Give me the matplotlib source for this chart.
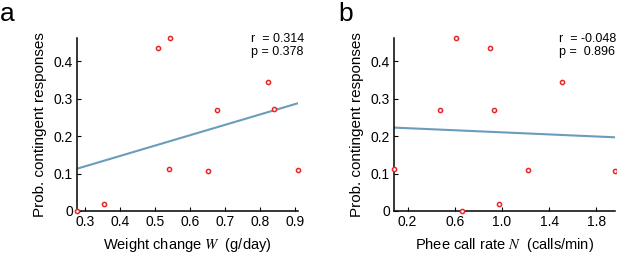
import numpy as np
import matplotlib.pyplot as plt

plt.rcParams['font.family'] = ['Liberation Sans', 'DejaVu Sans']
plt.rcParams['mathtext.fontset'] = 'stix'

# probabilidade de respostas contingentes vs variacao de peso
prob_a = [0.0, 0.019, 0.436, 0.463, 0.111, 0.107, 0.270, 0.345, 0.272, 0.109]
weight = [0.278, 0.356, 0.508, 0.542, 0.541, 0.653, 0.676, 0.822, 0.840, 0.908]

# probabilidade vs taxa de chamadas phee
prob_b = [0.111, 0.271, 0.463, 0.0, 0.436, 0.270, 0.019, 0.109, 0.344, 0.108]
phee_rate = [0.085, 0.478, 0.606, 0.663, 0.896, 0.933, 0.973, 1.217, 1.512, 1.956]

# reta ajustada (declive, ordenada na origem)
fit_a = (0.278, 0.0357)
fit_b = (-0.0139, 0.2242)

stats_a = "r  = 0.314\np = 0.378"
stats_b = "r  = -0.048\np =  0.896"

xticks_a = [0.3, 0.4, 0.5, 0.6, 0.7, 0.8, 0.9]
xticks_b = [0.2, 0.6, 1.0, 1.4, 1.8]
yticks = [0, 0.1, 0.2, 0.3, 0.4]
ytick_labels = ['0', '0.1', '0.2', '0.3', '0.4']

fig = plt.figure(figsize=(6.17, 2.56), dpi=100)
ax_a = fig.add_axes([0.1248, 0.176, 0.358, 0.676])
ax_b = fig.add_axes([0.6386, 0.176, 0.358, 0.676])

def painel(ax, x, y, fit, xticks, xlabel, stats, stats_x, letra, letra_x):
    x = np.array(x)
    y = np.array(y)
    m, b = fit
    xs = np.array([x.min(), x.max()])
    ax.plot(xs, m * xs + b, color='#6a9dbb', lw=1.5, zorder=2)
    ax.plot(x, y, 'o', mfc='white', mec='#e8262a', ms=3.0, mew=1.1,
            clip_on=False, zorder=3)
    ax.set_xlim(x.min(), x.max())
    ax.set_ylim(0, y.max())
    ax.set_xticks(xticks)
    ax.set_xticklabels(['{:.1f}'.format(v) for v in xticks])
    ax.set_yticks(yticks)
    ax.set_yticklabels(ytick_labels)
    ax.tick_params(direction='in', length=3, width=0.8, labelsize=10, pad=3)
    for s in ['top', 'right']:
        ax.spines[s].set_visible(False)
    for s in ['left', 'bottom']:
        ax.spines[s].set_linewidth(1.1)
    ax.set_xlabel(xlabel, fontsize=10.5, labelpad=5)
    ax.set_ylabel('Prob. contingent responses', fontsize=11, labelpad=5)
    ax.text(stats_x, 1.03, stats, transform=ax.transAxes,
            fontsize=9, va='top', ha='left', linespacing=1.15)
    ax.text(letra_x, 1.21, letra, transform=ax.transAxes, fontsize=19,
            va='top', ha='left')

painel(ax_a, weight, prob_a, fit_a, xticks_a,
       r'Weight change $W$  (g/day)', stats_a, 0.787, 'a', -0.35)
painel(ax_b, phee_rate, prob_b, fit_b, xticks_b,
       r'Phee call rate $N$  (calls/min)', stats_b, 0.747, 'b', -0.25)

fig.savefig('out.png', dpi=100)
